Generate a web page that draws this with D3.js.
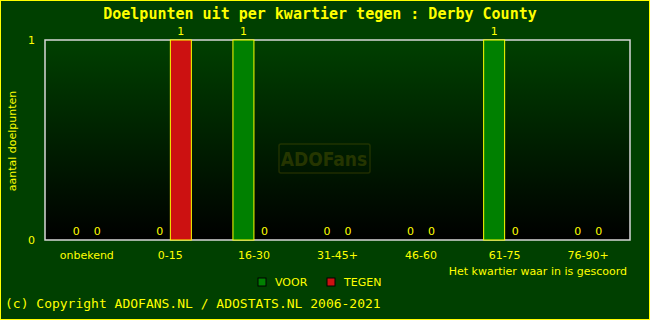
<!DOCTYPE html>
<html>
<head>
<meta charset="utf-8">
<script src="https://cdn.jsdelivr.net/npm/d3@7"></script>
<style>
  html, body { margin: 0; padding: 0; background: #004000; }
  svg { display: block; }
</style>
</head>
<body>
<div id="chart"></div>
<script>
const categories = ["onbekend", "0-15", "16-30", "31-45+", "46-60", "61-75", "76-90+"];
const voor = [0, 0, 1, 0, 0, 1, 0];
const tegen = [0, 1, 0, 0, 0, 0, 0];
const yTicks = [0, 1];
const series = [
  { key: "VOOR", values: voor, color: "#008000" },
  { key: "TEGEN", values: tegen, color: "#cc1111" }
];

const width = 650, height = 320;
const margin = { top: 40, right: 20, bottom: 80, left: 45 };
const yellow = "#ffff00";

const svg = d3.select("#chart").append("svg")
  .attr("width", width).attr("height", height);

// achtergrond + gele rand
svg.append("rect").attr("x", 0.5).attr("y", 0.5)
  .attr("width", width - 1).attr("height", height - 1)
  .attr("fill", "#004000").attr("stroke", yellow);

const grad = svg.append("defs").append("linearGradient")
  .attr("id", "plotbg").attr("x1", 0).attr("y1", 0).attr("x2", 0).attr("y2", 1);
grad.append("stop").attr("offset", "0%").attr("stop-color", "#004000");
grad.append("stop").attr("offset", "100%").attr("stop-color", "#000000");

const x = d3.scaleBand().domain(categories)
  .range([margin.left, width - margin.right]);
const xInner = d3.scaleBand().domain(series.map(s => s.key))
  .range([0, 42]);
const y = d3.scaleLinear().domain([0, 1])
  .range([height - margin.bottom, margin.top]);

svg.append("rect")
  .attr("x", margin.left).attr("y", margin.top)
  .attr("width", width - margin.left - margin.right)
  .attr("height", height - margin.top - margin.bottom)
  .attr("fill", "url(#plotbg)")
  .attr("stroke", "#d8d8d8").attr("stroke-width", 1.5);

// watermerk
const wm = svg.append("g").attr("opacity", 0.35);
wm.append("rect").attr("x", 279).attr("y", 144).attr("width", 91).attr("height", 29)
  .attr("fill", "none").attr("stroke", "#5a5a00").attr("stroke-width", 1.5).attr("rx", 2);
wm.append("text").attr("x", 324).attr("y", 166).attr("text-anchor", "middle")
  .attr("font-family", "DejaVu Sans Condensed, DejaVu Sans").attr("font-weight", "bold")
  .attr("font-size", 19).attr("fill", "#6a6a00").text("ADOFans");

const rows = categories.flatMap((c, i) => series.map(s => ({ cat: c, key: s.key, value: s.values[i], color: s.color })));
const bx = d => x(d.cat) + x.bandwidth() / 2 - 21 + xInner(d.key);

svg.append("g").selectAll("rect").data(rows.filter(d => d.value > 0)).join("rect")
  .attr("x", d => bx(d))
  .attr("y", d => y(d.value))
  .attr("width", xInner.bandwidth())
  .attr("height", d => y(0) - y(d.value))
  .attr("fill", d => d.color)
  .attr("stroke", yellow).attr("stroke-width", 1);

svg.append("g").selectAll("text").data(rows).join("text")
  .attr("x", d => bx(d) + xInner.bandwidth() / 2)
  .attr("y", d => d.value > 0 ? y(d.value) - 5 : y(0) - 5)
  .attr("text-anchor", "middle")
  .attr("font-family", "DejaVu Sans").attr("font-size", 11)
  .attr("fill", yellow)
  .text(d => d.value);

// assen
svg.append("g").selectAll("text").data(yTicks).join("text")
  .attr("x", 35).attr("y", d => y(d) + 4)
  .attr("text-anchor", "end")
  .attr("font-family", "DejaVu Sans").attr("font-size", 11)
  .attr("fill", yellow).text(d => d);

svg.append("g").selectAll("text").data(categories).join("text")
  .attr("x", d => x(d) + x.bandwidth() / 2).attr("y", 259)
  .attr("text-anchor", "middle")
  .attr("font-family", "DejaVu Sans").attr("font-size", 11)
  .attr("fill", yellow).text(d => d);

svg.append("text")
  .attr("transform", "translate(16,141) rotate(-90)")
  .attr("text-anchor", "middle")
  .attr("font-family", "DejaVu Sans").attr("font-size", 11)
  .attr("fill", yellow).text("aantal doelpunten");

svg.append("text").attr("x", 627).attr("y", 275).attr("text-anchor", "end")
  .attr("font-family", "DejaVu Sans").attr("font-size", 11)
  .attr("fill", yellow).text("Het kwartier waar in is gescoord");

// legenda
const legend = svg.append("g").selectAll("g").data(series).join("g")
  .attr("transform", (d, i) => `translate(${258 + i * 69},278)`);
legend.append("rect").attr("width", 8).attr("height", 8)
  .attr("fill", d => d.color).attr("stroke", "#000");
legend.append("text").attr("x", 17).attr("y", 8)
  .attr("font-family", "DejaVu Sans").attr("font-size", 11)
  .attr("fill", yellow).text(d => d.key);

// titel en copyright
svg.append("text").attr("x", 320).attr("y", 19).attr("text-anchor", "middle")
  .attr("font-family", "DejaVu Sans Mono").attr("font-weight", "bold").attr("font-size", 15)
  .attr("fill", yellow).text("Doelpunten uit per kwartier tegen : Derby County");

svg.append("text").attr("x", 5).attr("y", 308)
  .attr("font-family", "DejaVu Sans Mono").attr("font-size", 13)
  .attr("fill", yellow).text("(c) Copyright ADOFANS.NL / ADOSTATS.NL 2006-2021");
</script>
</body>
</html>
